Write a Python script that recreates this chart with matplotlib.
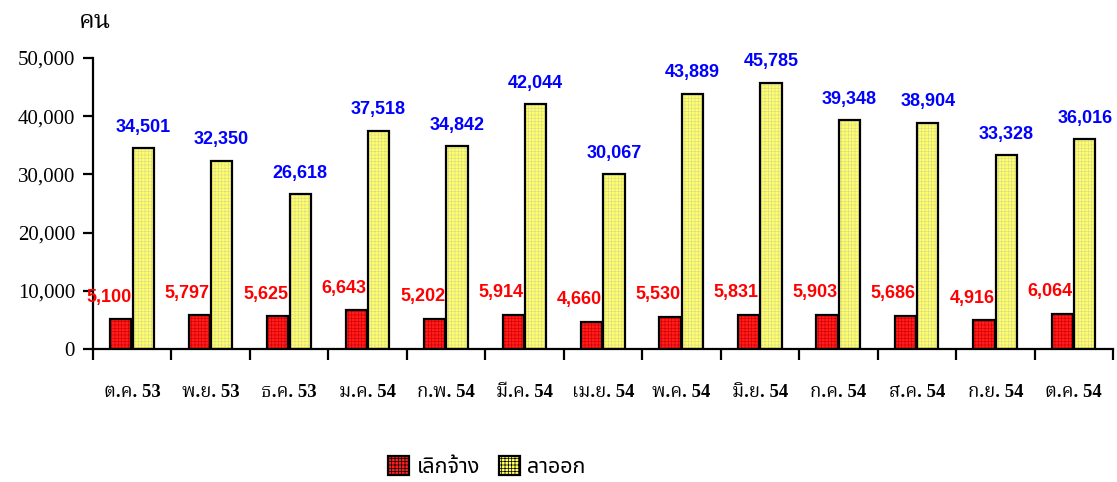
import matplotlib
matplotlib.use("Agg")
import matplotlib.pyplot as plt
from matplotlib import font_manager
from matplotlib.patches import Patch
from matplotlib.ticker import FuncFormatter

months = ["ต.ค. 53", "พ.ย. 53", "ธ.ค. 53", "ม.ค. 54", "ก.พ. 54", "มี.ค. 54", "เม.ย. 54",
          "พ.ค. 54", "มิ.ย. 54", "ก.ค. 54", "ส.ค. 54", "ก.ย. 54", "ต.ค. 54"]
laid_off = [5100, 5797, 5625, 6643, 5202, 5914, 4660, 5530, 5831, 5903, 5686, 4916, 6064]
resigned = [34501, 32350, 26618, 37518, 34842, 42044, 30067, 43889, 45785, 39348, 38904, 33328, 36016]
series_names = ["เลิกจ้าง", "ลาออก"]
y_unit = "คน"


def pick(*names):
    have = {f.name for f in font_manager.fontManager.ttflist}
    for n in names:
        if n in have:
            return n
    return "DejaVu Sans"


thai_serif = pick("Noto Serif Thai", "Sarabun", "Noto Sans Thai Looped")
thai_sans = pick("Noto Sans Thai", "Noto Sans Thai UI", "Sarabun")
serif = ["Liberation Serif", thai_serif, "DejaVu Serif"]
sans = ["Liberation Sans", thai_sans, "DejaVu Sans"]

plt.rcParams["hatch.linewidth"] = 0.5

fig = plt.figure(figsize=(11.17, 4.82), dpi=100)
ax = fig.add_axes([93 / 1117, 1 - 349 / 482, 1020 / 1117, 291 / 482])

x = list(range(len(months)))
w = 0.27
xr = [i - 0.145 for i in x]
xy = [i + 0.14 for i in x]
red, yellow = "#ff1f1f", "#ffff66"

# hatched fill first, black outline on top
ax.bar(xr, laid_off, w, color=red, edgecolor="#d80000", hatch="+++++", lw=0)
ax.bar(xy, resigned, w, color=yellow, edgecolor="#dcdc90", hatch="+++++", lw=0)
ax.bar(xr, laid_off, w, fill=False, edgecolor="black", lw=1.6)
ax.bar(xy, resigned, w, fill=False, edgecolor="black", lw=1.6)

for i in x:
    ax.annotate(f"{laid_off[i]:,}", (i - 0.30, laid_off[i]), xytext=(0, 16),
                textcoords="offset points", ha="center", va="center",
                color="#ff0000", fontsize=13, fontweight="bold", family=sans)
    ax.annotate(f"{resigned[i]:,}", (xy[i], resigned[i]), xytext=(0, 15),
                textcoords="offset points", ha="center", va="center",
                color="#0000ff", fontsize=13, fontweight="bold", family=sans)

ax.set_xlim(-0.5, len(months) - 0.5)
ax.set_ylim(0, 50000)
ax.set_yticks(range(0, 50001, 10000))
ax.yaxis.set_major_formatter(FuncFormatter(lambda v, p: f"{int(v):,}"))
for lab in ax.get_yticklabels():
    lab.set_family(serif)
    lab.set_fontsize(15)
ax.tick_params(axis="y", direction="out", length=7, width=1.6, pad=6)

ax.set_xticks([i - 0.5 for i in range(len(months) + 1)])
ax.set_xticklabels([])
ax.tick_params(axis="x", which="major", direction="out", length=8, width=1.6)
ax.set_xticks(x, minor=True)
ax.set_xticklabels(months, minor=True)
ax.tick_params(axis="x", which="minor", length=0, pad=25)
for lab in ax.get_xticklabels(minor=True):
    lab.set_family(serif)
    lab.set_fontsize(13.5)
    lab.set_fontweight("bold")

for s in ["top", "right"]:
    ax.spines[s].set_visible(False)
for s in ["left", "bottom"]:
    ax.spines[s].set_linewidth(1.6)

fig.text(79 / 1117, 1 - 22 / 482, y_unit, ha="left", va="center", fontsize=18, family=serif)

handles = [Patch(facecolor=red, edgecolor="black", lw=1.6, hatch="+++++"),
           Patch(facecolor=yellow, edgecolor="black", lw=1.6, hatch="+++++")]
fig.legend(handles, series_names, loc="center", bbox_to_anchor=(487 / 1117, 1 - 467 / 482),
           ncol=2, frameon=False, handlelength=0.95, handleheight=0.95, handletextpad=0.35,
           columnspacing=0.9, prop={"family": sans, "size": 15.5})

fig.savefig("out.png", dpi=100)
